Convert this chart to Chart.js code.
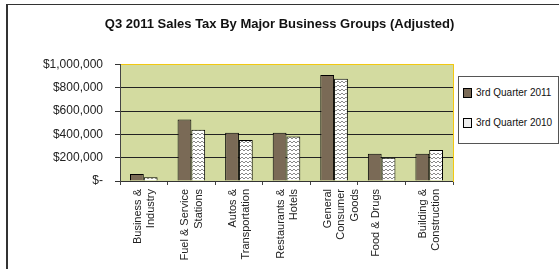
<!DOCTYPE html>
<html>
<head>
<meta charset="utf-8">
<script src="https://cdn.jsdelivr.net/npm/chart.js@4/dist/chart.umd.min.js"></script>
<style>
  body { margin: 0; background: #fff; }
  #wrap { position: relative; width: 559px; height: 269px; overflow: hidden; }
  #frame { position: absolute; left: 6px; top: 4px; width: 600px; height: 300px;
           border-left: 2px solid #333; border-top: 1px solid #333; }
  #chart { position: absolute; left: 0; top: 0; }
  #legend { position: absolute; left: 458px; top: 76px; width: 99px; height: 66px;
            border: 1px solid #555; background: #fff;
            font: 10px "Liberation Sans", Arial, sans-serif; color: #111; }
  .item { position: absolute; left: 4px; height: 12px; line-height: 12px; white-space: nowrap; }
  .sw { display: inline-block; width: 7px; height: 8px; border: 1px solid #000;
        vertical-align: -2px; margin-right: 4px; }
</style>
</head>
<body>
<div id="wrap">
  <div id="frame"></div>
  <canvas id="chart" width="559" height="269"></canvas>
  <div id="legend"></div>
</div>
<script>
// ********************* data ***********************
const categories = [
    ['Business &', 'Industry'],
    ['Fuel & Service', 'Stations'],
    ['Autos &', 'Transportation'],
    ['Restaurants &', 'Hotels'],
    ['General', 'Consumer', 'Goods'],
    ['Food & Drugs'],
    ['Building &', 'Construction'],
];
const quarter2011 = [60000, 528000, 414000, 414000, 911000, 235000, 235000];
const quarter2010 = [32000, 440000, 353000, 382000, 879000, 200000, 267000];
const seriesNames = ['3rd Quarter 2011', '3rd Quarter 2010'];
const yTicks = [0, 200000, 400000, 600000, 800000, 1000000];

// zigzag fill for the 2010 bars
function zigzag() {
    const c = document.createElement('canvas');
    c.width = 4; c.height = 4;
    const g = c.getContext('2d');
    g.fillStyle = '#fff';
    g.fillRect(0, 0, 4, 4);
    g.strokeStyle = '#8a8a8a';
    g.lineWidth = 1;
    g.beginPath();
    g.moveTo(0, 3); g.lineTo(2, 1); g.lineTo(4, 3);
    g.stroke();
    return g.createPattern(c, 'repeat');
}

const plotBg = {
    id: 'plotBg',
    beforeDraw(chart) {
        const a = chart.chartArea, ctx = chart.ctx;
        ctx.save();
        ctx.fillStyle = '#d3dba0';
        ctx.fillRect(a.left, a.top, a.right - a.left, a.bottom - a.top);
        ctx.restore();
    }
};

const font = { family: '"Liberation Sans", Arial, sans-serif', size: 11 };

const salesChart = new Chart(document.getElementById('chart'), {
    type: 'bar',
    data: {
        labels: categories,
        datasets: [{
            label: seriesNames[0],
            data: quarter2011,
            backgroundColor: '#7a6a56',
            borderColor: '#000',
            borderWidth: 1,
        }, {
            label: seriesNames[1],
            data: quarter2010,
            backgroundColor: zigzag(),
            borderColor: '#000',
            borderWidth: 1,
        }]
    },
    options: {
        responsive: false,
        animation: false,
        categoryPercentage: 0.58,
        barPercentage: 1,
        layout: { padding: 0 },
        plugins: {
            legend: { display: false },
            tooltip: { enabled: false },
            title: {
                display: true,
                text: 'Q3 2011 Sales Tax By Major Business Groups (Adjusted)',
                color: '#111',
                font: { family: font.family, size: 13, weight: 'bold' },
                padding: { top: 17, bottom: 32 },
            }
        },
        scales: {
            x: {
                grid: { drawOnChartArea: false, tickLength: 4, color: '#444', offset: true },
                border: { color: '#333' },
                ticks: { font: font, color: '#222', minRotation: 90, maxRotation: 90,
                         autoSkip: false, padding: 4, labelOffset: -6 },
                afterFit: s => { s.height = 88; }
            },
            y: {
                min: 0, max: 1000000,
                afterBuildTicks: s => { s.ticks = yTicks.map(v => ({ value: v })); },
                grid: {
                    color: c => c.tick && c.tick.value === 1000000 ? '#f2c811' : '#222',
                    tickColor: '#333', tickLength: 5
                },
                border: { color: '#444' },
                ticks: {
                    font: { family: font.family, size: 12 }, color: '#222', padding: 12,
                    callback: v => v === 0 ? '$-' : '$' + v.toLocaleString('en-US')
                },
                afterFit: s => { s.width = 120; }
            },
            y2: {
                position: 'right',
                min: 0, max: 1,
                grid: { drawOnChartArea: false, drawTicks: false },
                border: { color: '#f2c811' },
                ticks: { display: false },
                afterFit: s => { s.width = 106; }
            }
        }
    },
    plugins: [plotBg]
});

// legend box at the right
const legend = document.getElementById('legend');
const swatches = ['background:#7a6a56', 'background:#eee'];
seriesNames.forEach((name, i) => {
    const d = document.createElement('div');
    d.className = 'item';
    d.style.top = (i === 0 ? 10 : 40) + 'px';
    d.innerHTML = '<span class="sw" style="' + swatches[i] + '"></span>' + name;
    legend.appendChild(d);
});
</script>
</body>
</html>
